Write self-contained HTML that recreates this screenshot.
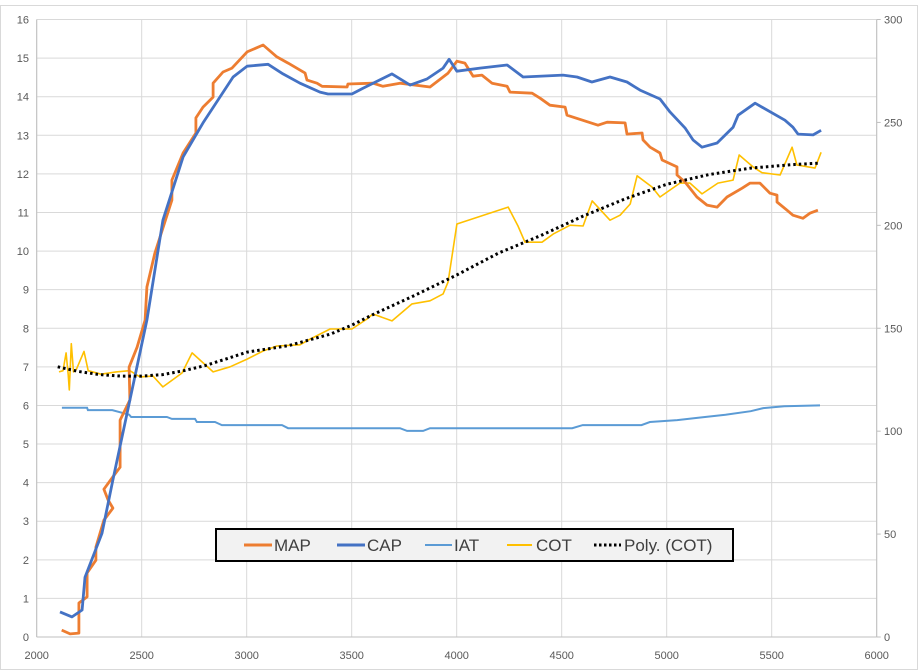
<!DOCTYPE html>
<html><head><meta charset="utf-8"><style>
html,body{margin:0;padding:0;background:#fff;}
svg{display:block;font-family:"Liberation Sans",sans-serif;}
</style></head><body>
<svg id="chart" width="920" height="671">
<rect x="0.5" y="5.5" width="917" height="664" fill="#fff" stroke="#d9d9d9"/>
<g id="grid"></g><g id="axes"></g><g id="series"></g>
<g>
<rect x="216" y="529" width="517" height="32" fill="#f2f2f2" stroke="#000" stroke-width="2"/>
<line x1="244" y1="545" x2="272" y2="545" stroke="#ed7d31" stroke-width="3"/>
<text x="274" y="551" font-size="17" fill="#404040">MAP</text>
<line x1="337" y1="545" x2="365" y2="545" stroke="#4472c4" stroke-width="3"/>
<text x="367" y="551" font-size="17" fill="#404040">CAP</text>
<line x1="425" y1="545" x2="452" y2="545" stroke="#5b9bd5" stroke-width="2"/>
<text x="454" y="551" font-size="17" fill="#404040">IAT</text>
<line x1="507" y1="545" x2="532" y2="545" stroke="#ffc000" stroke-width="2"/>
<text x="536" y="551" font-size="17" fill="#404040">COT</text>
<line x1="594" y1="545" x2="621" y2="545" stroke="#000" stroke-width="3" stroke-dasharray="2.5,2.5"/>
<text x="624" y="551" font-size="17" fill="#404040">Poly. (COT)</text>
</g>
</svg>
<script>
const xTicks=[2000,2500,3000,3500,4000,4500,5000,5500,6000];
const yTicksLeft=[0,1,2,3,4,5,6,7,8,9,10,11,12,13,14,15,16];
const yTicksRight=[0,50,100,150,200,250,300];
const mapSeries=[[2119,0.18],[2159,0.08],[2201,0.10],[2201,0.88],[2240,1.04],[2240,1.66],[2282,1.99],[2282,2.33],[2320,3.03],[2363,3.34],[2340,3.55],[2320,3.83],[2363,4.15],[2397,4.40],[2397,5.62],[2444,6.14],[2440,6.99],[2478,7.51],[2516,8.21],[2525,9.07],[2563,9.95],[2644,11.32],[2644,11.84],[2697,12.54],[2758,13.06],[2758,13.45],[2792,13.73],[2840,13.99],[2840,14.35],[2887,14.64],[2930,14.74],[3002,15.16],[3078,15.34],[3144,15.03],[3197,14.87],[3278,14.61],[3287,14.43],[3335,14.35],[3359,14.27],[3478,14.25],[3482,14.33],[3601,14.35],[3649,14.27],[3730,14.35],[3873,14.25],[3959,14.61],[4001,14.92],[4039,14.87],[4078,14.53],[4120,14.56],[4168,14.35],[4240,14.27],[4254,14.12],[4359,14.09],[4397,13.96],[4444,13.78],[4516,13.73],[4525,13.52],[4673,13.26],[4716,13.34],[4802,13.32],[4811,13.03],[4883,13.06],[4887,12.88],[4921,12.69],[4968,12.54],[4978,12.36],[5049,12.18],[5049,11.97],[5087,11.79],[5144,11.40],[5192,11.19],[5240,11.14],[5287,11.40],[5359,11.63],[5397,11.76],[5444,11.76],[5492,11.50],[5525,11.45],[5525,11.27],[5573,11.06],[5601,10.93],[5649,10.85],[5682,10.98],[5720,11.06]];
const capSeries=[[2111,0.65],[2168,0.52],[2216,0.70],[2230,1.55],[2311,2.69],[2363,4.07],[2444,6.14],[2525,8.21],[2601,10.80],[2697,12.44],[2792,13.32],[2935,14.51],[3002,14.79],[3102,14.84],[3173,14.59],[3254,14.35],[3349,14.12],[3387,14.07],[3501,14.07],[3554,14.22],[3692,14.59],[3778,14.30],[3859,14.46],[3935,14.74],[3964,14.97],[4001,14.66],[4111,14.74],[4240,14.82],[4316,14.51],[4506,14.56],[4573,14.51],[4644,14.38],[4730,14.51],[4811,14.38],[4873,14.17],[4968,13.94],[5016,13.60],[5087,13.19],[5125,12.88],[5168,12.69],[5240,12.80],[5316,13.21],[5340,13.52],[5421,13.83],[5563,13.39],[5601,13.21],[5625,13.03],[5697,13.01],[5735,13.13]];
const iatSeries=[[2120,5.94],[2240,5.94],[2244,5.88],[2360,5.88],[2440,5.76],[2450,5.70],[2620,5.70],[2644,5.65],[2754,5.65],[2763,5.57],[2849,5.57],[2882,5.49],[3168,5.49],[3197,5.41],[3730,5.41],[3764,5.34],[3840,5.34],[3873,5.41],[4550,5.41],[4600,5.49],[4880,5.49],[4920,5.57],[5050,5.62],[5150,5.68],[5280,5.76],[5400,5.85],[5460,5.93],[5560,5.98],[5730,6.0]];
const cotSeries=[[2106,6.87],[2125,6.9],[2140,7.36],[2150,6.8],[2155,6.4],[2160,7.0],[2165,7.6],[2175,6.87],[2190,6.95],[2225,7.4],[2245,6.9],[2306,6.81],[2378,6.87],[2444,6.9],[2492,6.74],[2554,6.76],[2601,6.48],[2692,6.84],[2740,7.36],[2840,6.87],[2921,7.0],[3002,7.2],[3078,7.41],[3144,7.54],[3254,7.57],[3302,7.72],[3397,7.98],[3501,7.98],[3573,8.24],[3601,8.37],[3692,8.19],[3787,8.63],[3873,8.71],[3935,8.89],[3959,9.2],[4001,10.70],[4245,11.14],[4292,10.65],[4325,10.23],[4406,10.23],[4459,10.44],[4540,10.67],[4602,10.65],[4645,11.30],[4730,10.80],[4778,10.93],[4826,11.22],[4859,11.95],[4930,11.66],[4968,11.40],[5063,11.76],[5111,11.76],[5168,11.48],[5244,11.76],[5316,11.84],[5345,12.49],[5411,12.18],[5454,12.03],[5540,11.97],[5597,12.69],[5620,12.23],[5706,12.15],[5735,12.56]];
const polySeries=[[2100,7.0],[2200,6.88],[2300,6.8],[2400,6.76],[2500,6.76],[2600,6.8],[2700,6.9],[2800,7.03],[2900,7.2],[3000,7.38],[3200,7.55],[3400,7.85],[3500,8.08],[3600,8.35],[3800,8.85],[4000,9.38],[4200,9.95],[4400,10.4],[4600,10.9],[4800,11.35],[5000,11.73],[5200,11.98],[5400,12.15],[5600,12.24],[5730,12.28]];

const X0=36.7,X1=876.7,Y0=637,Y1=19.5;
function sx(v){return X0+(v-2000)/4000*(X1-X0);}
function sy(v){return Y0-v/16*(Y0-Y1);}
function syR(v){return Y0-v/300*(Y0-Y1);}
const NS='http://www.w3.org/2000/svg';
function mk(tag,attrs,parent){const e=document.createElementNS(NS,tag);for(const k in attrs)e.setAttribute(k,attrs[k]);parent.appendChild(e);return e;}
const grid=document.getElementById('grid'),axes=document.getElementById('axes'),ser=document.getElementById('series');
yTicksLeft.forEach(t=>{
  const l=mk('line',{x1:X0,x2:X1,y1:sy(t),y2:sy(t),stroke:'#d9d9d9','stroke-width':1},grid);
  
  
  const tx=mk('text',{x:29,y:sy(t)+4,'text-anchor':'end','font-size':11,fill:'#595959'},axes);
  tx.textContent=t;
  
  
});
xTicks.forEach(t=>{
  const l=mk('line',{x1:sx(t),x2:sx(t),y1:Y1,y2:Y0,stroke:'#d9d9d9','stroke-width':1},grid);
  
  
  const tx=mk('text',{x:sx(t),y:659,'text-anchor':'middle','font-size':11,fill:'#595959'},axes);
  tx.textContent=t;
  
  
});
yTicksRight.forEach(t=>{
  const m=mk('line',{x1:X1,x2:X1+4,y1:syR(t),y2:syR(t),stroke:'#bfbfbf'},axes);
  
  
  const tx=mk('text',{x:884,y:syR(t)+4,'font-size':11,fill:'#595959'},axes);
  tx.textContent=t;
  
  
});
const la=mk('line',{x1:X0,x2:X0,y1:Y1,y2:Y0,stroke:'#bfbfbf'},axes);


const ra=mk('line',{x1:X1,x2:X1,y1:Y1,y2:Y0,stroke:'#bfbfbf'},axes);


const xa=mk('line',{x1:X0,x2:X1,y1:Y0,y2:Y0,stroke:'#bfbfbf'},axes);


function pts(d){return d.map(p=>sx(p[0]).toFixed(1)+','+sy(p[1]).toFixed(1)).join(' ');}
const pI=mk('polyline',{points:pts(iatSeries),fill:'none',stroke:'#5b9bd5','stroke-width':2},ser);


const pC=mk('polyline',{points:pts(cotSeries),fill:'none',stroke:'#ffc000','stroke-width':1.6,'stroke-linejoin':'round'},ser);


const pM=mk('polyline',{points:pts(mapSeries),fill:'none',stroke:'#ed7d31','stroke-width':2.8,'stroke-linejoin':'round'},ser);


const pA=mk('polyline',{points:pts(capSeries),fill:'none',stroke:'#4472c4','stroke-width':2.8,'stroke-linejoin':'round'},ser);


const pP=mk('polyline',{points:pts(polySeries),fill:'none',stroke:'#000','stroke-width':3,'stroke-dasharray':'2.5,3'},ser);


</script>
</body></html>
